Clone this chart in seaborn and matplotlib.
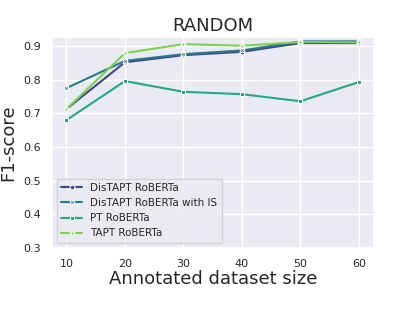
import matplotlib
matplotlib.use("Agg")
import matplotlib.pyplot as plt
import seaborn as sns
import pandas as pd

# Values
sizes = [10, 20, 30, 40, 50, 60]
distapt = [0.713, 0.852, 0.873, 0.883, 0.909, 0.909]
distapt_is = [0.775, 0.856, 0.876, 0.887, 0.914, 0.914]
pt = [0.680, 0.796, 0.764, 0.757, 0.736, 0.793]
tapt = [0.713, 0.879, 0.906, 0.901, 0.912, 0.911]
models = ["DisTAPT RoBERTa", "DisTAPT RoBERTa with IS", "PT RoBERTa", "TAPT RoBERTa"]

rows = []
for name, vals in zip(models, [distapt, distapt_is, pt, tapt]):
    for s, v in zip(sizes, vals):
        rows.append({"size": s, "f1": v, "model": name})
df = pd.DataFrame(rows)

sns.set_theme(style="darkgrid")
fig = plt.figure(figsize=(4.15, 3.11), dpi=100)
ax = fig.add_axes([0.125, 0.203, 0.775, 0.678])
sns.lineplot(data=df, x="size", y="f1", hue="model", style="model",
             markers=["o", "X", "s", "P"], dashes=False, palette="viridis",
             markersize=3.5, linewidth=1.5, ax=ax)
ax.set_ylim(0.3, 0.927)
ax.set_title("RANDOM", fontsize=13, pad=4)
ax.set_xlabel("Annotated dataset size", fontsize=13, labelpad=1)
ax.set_ylabel("F1-score", fontsize=13)
ax.tick_params(labelsize=8, pad=2)
ax.legend(loc="lower left", fontsize=7.5, title=None)
fig.savefig("out.png", dpi=100)
